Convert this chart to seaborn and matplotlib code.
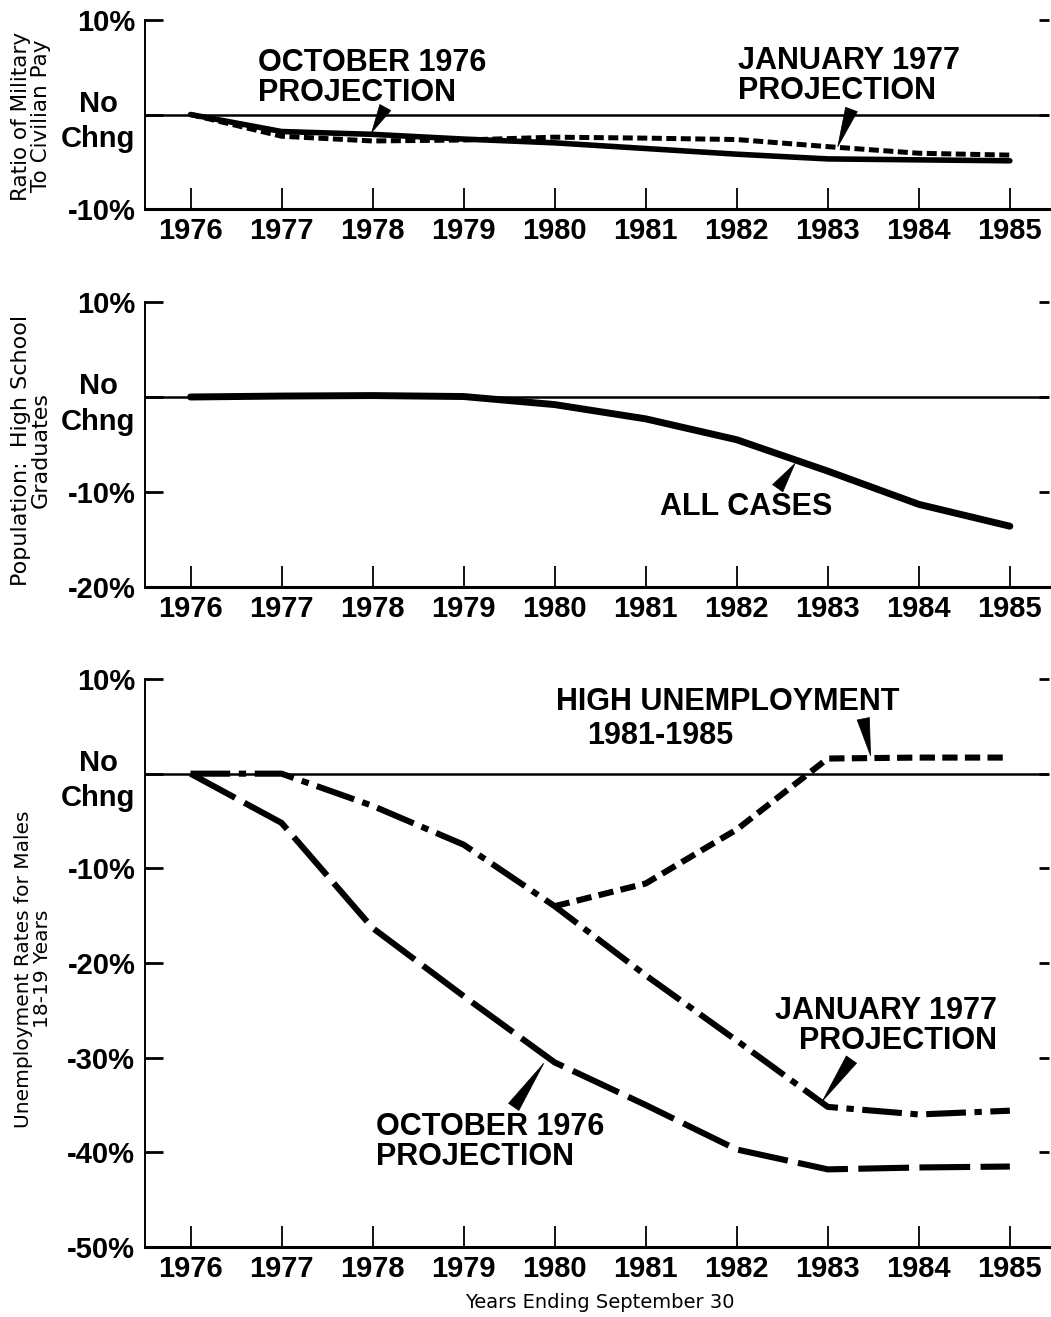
import matplotlib
matplotlib.use("Agg")
import matplotlib.pyplot as plt
import seaborn as sns

# ---- data (percent change from 1976) ----
years = [1976, 1977, 1978, 1979, 1980, 1981, 1982, 1983, 1984, 1985]

# ratio of military to civilian pay
pay_oct76 = [0, -1.8, -2.1, -2.6, -3.0, -3.6, -4.2, -4.7, -4.8, -4.9]
pay_jan77 = [0, -2.3, -2.8, -2.7, -2.4, -2.5, -2.65, -3.4, -4.1, -4.3]

# population: high school graduates
grads_all = [0, 0.1, 0.15, 0.05, -0.8, -2.3, -4.5, -7.8, -11.3, -13.6]

# unemployment rates for males 18-19
unemp_oct76 = [0, -5.2, -16.3, -23.5, -30.5, -35.0, -39.7, -41.8, -41.6, -41.5]
unemp_jan77 = [0, 0, -3.4, -7.5, -14.0, -21.3, -28.2, -35.2, -36.0, -35.6]
high_years = [1980, 1981, 1982, 1983, 1984, 1985]
unemp_high = [-14.0, -11.6, -5.9, 1.6, 1.7, 1.7]

yticks_pay = [10, 0, -10]
yticks_grads = [10, 0, -10, -20]
yticks_unemp = [10, 0, -10, -20, -30, -40, -50]

sns.set_style("white")
plt.rcParams["font.family"] = ["Liberation Sans", "DejaVu Sans"]
plt.rcParams["text.color"] = "black"
plt.rcParams["axes.edgecolor"] = "black"
plt.rcParams["xtick.color"] = "black"
plt.rcParams["ytick.color"] = "black"

TICK_FONT = ["Liberation Sans", "DejaVu Sans"]
NOTE_FONT = ["Liberation Sans", "DejaVu Sans"]

W, H = 1051, 1317
fig = plt.figure(figsize=(W / 100, H / 100), dpi=100)


def px_axes(left, top, right, bottom):
    return fig.add_axes([left / W, 1 - bottom / H, (right - left) / W, (bottom - top) / H])


def pct(v):
    if v == 0:
        return "No\nChng"
    return f"{v}%"


def style_axis(ax, yticks):
    ax.set_xlim(1975.5, 1985.43)
    ax.set_ylim(min(yticks), max(yticks))
    ax.set_xlabel("")
    ax.set_ylabel("")
    ax.set_xticks(years)
    ax.set_xticklabels([str(y) for y in years], fontsize=21, fontweight="bold",
                       family=TICK_FONT)
    ax.set_yticks(yticks)
    ax.set_yticklabels([pct(v) for v in yticks], fontsize=21, fontweight="bold",
                       family=TICK_FONT)
    for lbl in ax.get_yticklabels():
        lbl.set_multialignment("center")
        lbl.set_linespacing(1.35)
    for s in ["top", "right"]:
        ax.spines[s].set_visible(False)
    ax.spines["left"].set_linewidth(1.4)
    ax.spines["bottom"].set_linewidth(2.2)
    ax.tick_params(axis="x", direction="in", length=15, width=1.3, pad=6, bottom=True)
    ax.tick_params(axis="y", direction="in", length=13, width=2, pad=7,
                   left=True, right=True)
    for t in ax.yaxis.get_major_ticks():
        t.tick2line.set_markersize(7)
    ax.axhline(0, color="black", lw=1.8, zorder=1)
    ax.grid(False)


def draw(ax, x, y, lw, dash=None):
    ls = "-" if dash is None else (0, dash)
    sns.lineplot(x=x, y=y, ax=ax, color="black", lw=lw, linestyle=ls,
                 legend=False, zorder=3)


def note(ax, x, y, s, ha="left"):
    ax.text(x, y, s, ha=ha, va="center", multialignment=ha, fontsize=22,
            fontweight="bold", family=NOTE_FONT, linespacing=1.0)


def pointer(ax, tail, head):
    ax.annotate("", xy=head, xytext=tail,
                arrowprops=dict(arrowstyle="wedge,tail_width=0.45", fc="black",
                                ec="black", lw=0.5, shrinkA=0, shrinkB=0,
                                mutation_scale=20),
                annotation_clip=False, zorder=4)


# ---- panel 1: pay ratio ----
ax1 = px_axes(145, 20, 1049, 209)
draw(ax1, years, pay_oct76, 4.0)
draw(ax1, years, pay_jan77, 3.6, (2.0, 0.9))
style_axis(ax1, yticks_pay)
note(ax1, 1976.74, 3.9, "OCTOBER 1976\nPROJECTION")
note(ax1, 1982.01, 4.1, "JANUARY 1977\nPROJECTION")
pointer(ax1, (1978.14, 0.74), (1977.99, -1.9))
pointer(ax1, (1983.26, 0.53), (1983.11, -3.4))

# ---- panel 2: high school graduates ----
ax2 = px_axes(145, 302, 1049, 587)
draw(ax2, years, grads_all, 5.0)
style_axis(ax2, yticks_grads)
note(ax2, 1981.16, -11.6, "ALL CASES")
pointer(ax2, (1982.45, -9.6), (1982.64, -7.0))

# ---- panel 3: unemployment ----
ax3 = px_axes(145, 679, 1049, 1247)
draw(ax3, years, unemp_oct76, 4.4, (8.3, 1.7))
draw(ax3, years, unemp_jan77, 4.4, (6.5, 1.4, 1.2, 1.4))
draw(ax3, high_years, unemp_high, 4.4, (2.5, 1.2))
style_axis(ax3, yticks_unemp)
note(ax3, 1980.02, 7.55, "HIGH UNEMPLOYMENT")
note(ax3, 1980.36, 4.0, "1981-1985")
pointer(ax3, (1983.39, 5.8), (1983.47, 1.9))
note(ax3, 1984.86, -26.7, "JANUARY 1977\nPROJECTION", ha="right")
pointer(ax3, (1983.26, -30.2), (1982.94, -34.6))
note(ax3, 1978.04, -38.9, "OCTOBER 1976\nPROJECTION")
pointer(ax3, (1979.55, -35.2), (1979.88, -30.6))

# ---- axis titles ----
ylab = dict(rotation=90, ha="center", va="center", multialignment="center",
            family=["DejaVu Sans"], linespacing=1.0)
fig.text(31 / W, 1 - 116 / H, "Ratio of Military\nTo Civilian Pay",
         fontsize=15.5, **ylab)
fig.text(31 / W, 1 - 450 / H, "Population:  High School\nGraduates",
         fontsize=16, **ylab)
fig.text(33 / W, 1 - 969 / H, "Unemployment Rates for Males\n18-19 Years",
         fontsize=14.5, **ylab)
fig.text(600 / W, 1 - 1302 / H, "Years Ending September 30", ha="center",
         va="center", fontsize=14, family=["DejaVu Sans"])

fig.savefig("out.png", dpi=100, facecolor="white")
